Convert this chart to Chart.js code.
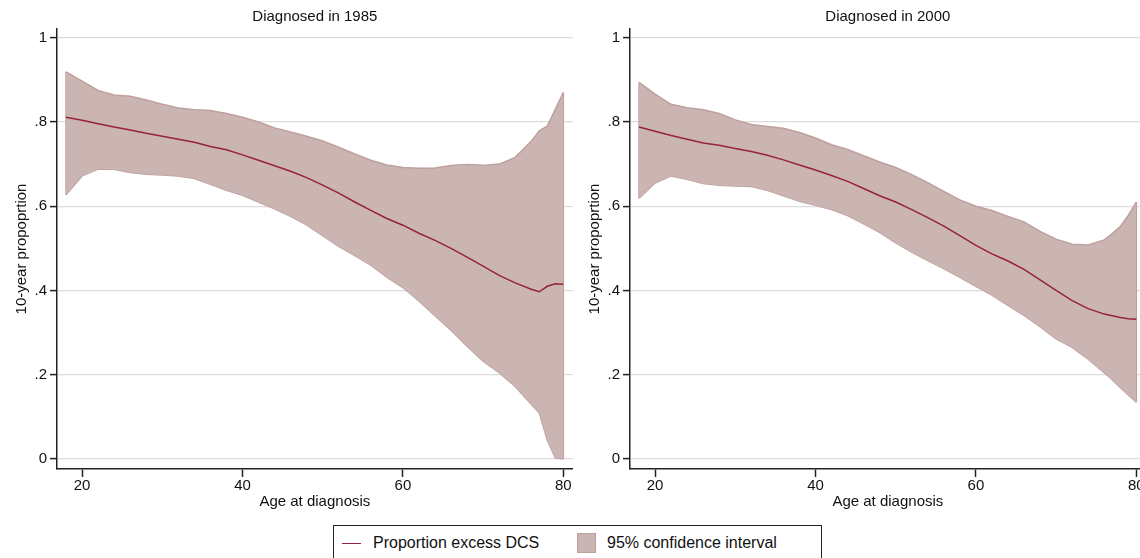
<!DOCTYPE html>
<html>
<head>
<meta charset="utf-8">
<script src="https://cdn.jsdelivr.net/npm/chart.js@4.4.1/dist/chart.umd.min.js"></script>
<style>
  html, body { margin: 0; padding: 0; background: #fff; width: 1140px; height: 558px; overflow: hidden; }
  body { position: relative; font-family: "Liberation Sans", Arial, Helvetica, sans-serif; }
  canvas { position: absolute; top: 0; }
  #c1985 { left: 0; }
  #c2000 { left: 573px; }
  #legend { position: absolute; left: 333px; top: 525px; width: 489px; height: 40px; border: 1px solid #222; box-sizing: border-box; font-size: 16px; color: #111; }
  #legend .line { position: absolute; left: 8px; top: 17px; width: 19px; height: 0; border-top: 1.5px solid rgb(150,35,55); }
  #legend .patch { position: absolute; left: 243px; top: 7px; width: 19px; height: 20px; box-sizing: border-box; background: rgb(202,181,178); border: 1.5px solid rgb(190,160,156); }
  #legend .t1 { position: absolute; left: 39px; top: 8px; }
  #legend .t2 { position: absolute; left: 273px; top: 8px; }
</style>
</head>
<body>
<canvas id="c1985" width="574" height="520"></canvas>
<canvas id="c2000" width="574" height="520"></canvas>
<div id="legend">
  <div class="line"></div><div class="t1">Proportion excess DCS</div>
  <div class="patch"></div><div class="t2">95% confidence interval</div>
</div>
<script>
const ages = [18, 20, 22, 24, 26, 28, 30, 32, 34, 36, 38, 40, 42, 44, 46, 48, 50, 52, 54, 56, 58, 60, 62, 64, 66, 68, 70, 72, 74, 76, 77, 78, 79, 80];

// diagnosed in 1985
const est1985 = [.811, .804, .796, .788, .781, .773, .766, .759, .752, .742, .734, .722, .709, .696, .683, .668, .650, .631, .610, .590, .571, .555, .536, .519, .500, .479, .458, .436, .418, .403, .397, .410, .416, .415];
const upper1985 = [.919, .897, .875, .864, .861, .852, .842, .833, .829, .827, .820, .811, .800, .786, .776, .766, .755, .740, .724, .709, .698, .692, .690, .691, .697, .699, .697, .700, .716, .754, .779, .790, .830, .870];
const lower1985 = [.627, .672, .688, .688, .680, .676, .674, .672, .666, .652, .638, .626, .610, .594, .576, .556, .530, .505, .483, .460, .432, .407, .375, .340, .306, .268, .232, .205, .172, .130, .110, .045, .003, 0];

// diagnosed in 2000
const est2000 = [.788, .778, .768, .759, .750, .745, .737, .730, .721, .710, .698, .686, .673, .659, .642, .625, .610, .592, .573, .553, .530, .507, .487, .470, .450, .425, .400, .376, .357, .344, .340, .336, .333, .332];
const upper2000 = [.894, .866, .842, .834, .829, .820, .805, .794, .789, .785, .775, .762, .746, .735, .720, .705, .692, .675, .656, .635, .615, .600, .590, .576, .563, .540, .522, .510, .508, .520, .535, .552, .578, .610];
const lower2000 = [.619, .655, .672, .664, .654, .650, .648, .647, .638, .625, .612, .602, .592, .578, .558, .538, .513, .491, .471, .452, .431, .410, .389, .365, .341, .314, .285, .265, .237, .205, .188, .170, .152, .135];

const xTicks = [20, 40, 60, 80];
const yTicks = [0, .2, .4, .6, .8, 1];

const lineColor = 'rgb(150,35,55)';
const bandFill = 'rgb(202,181,178)';
const bandEdge = 'rgb(190,160,156)';
const axisColor = '#222';

Chart.defaults.font.family = '"Liberation Sans", Arial, Helvetica, sans-serif';
Chart.defaults.font.size = 15;
Chart.defaults.color = '#111';

function pts(ys) {
    return ages.map((a, i) => ({ x: a, y: ys[i] }));
}

function makeChart(id, title, est, upper, lower) {
    const n = ages.length - 1;
    const edge = { borderColor: bandEdge, borderWidth: 1.5, pointRadius: 0, fill: false, order: 1 };
    return new Chart(document.getElementById(id), {
        type: 'line',
        data: {
            datasets: [
                { label: 'Proportion excess DCS', data: pts(est), borderColor: lineColor, borderWidth: 1.5, pointRadius: 0, fill: false, order: 0 },
                { label: 'upper', data: pts(upper), borderColor: bandEdge, borderWidth: 1.5, backgroundColor: bandFill, pointRadius: 0, fill: '+1', order: 1 },
                { label: 'lower', data: pts(lower), ...edge },
                { label: 'left edge', data: [{ x: ages[0], y: lower[0] }, { x: ages[0], y: upper[0] }], ...edge },
                { label: 'right edge', data: [{ x: ages[n], y: lower[n] }, { x: ages[n], y: upper[n] }], ...edge }
            ]
        },
        options: {
            responsive: false,
            animation: false,
            devicePixelRatio: 1,
            layout: { padding: { left: 0, right: 1.3, top: 0, bottom: 0 } },
            plugins: {
                legend: { display: false },
                tooltip: { enabled: false },
                // fullSize false -> centred over the plot area, not the canvas
                title: { display: true, fullSize: false, text: title, font: { size: 15, weight: 'normal' }, color: '#111', padding: { top: 8, bottom: 3 } }
            },
            scales: {
                x: {
                    type: 'linear',
                    min: 16.875,
                    max: 81.17,
                    afterBuildTicks: s => { s.ticks = xTicks.map(v => ({ value: v })); },
                    afterFit: s => { s.height = 51; },
                    border: { color: axisColor, width: 1.5 },
                    grid: { drawOnChartArea: false, tickLength: 8, tickColor: axisColor, tickWidth: 1.5 },
                    ticks: { padding: 0, maxRotation: 0, color: '#111' },
                    title: { display: true, text: 'Age at diagnosis', color: '#111', padding: { top: 0, bottom: 9 } }
                },
                y: {
                    min: -0.0237,
                    max: 1.0207,
                    afterBuildTicks: s => { s.ticks = yTicks.map(v => ({ value: v })); },
                    afterFit: s => { s.width = 57; },
                    border: { color: axisColor, width: 1.5 },
                    grid: { color: '#dcdcdc', lineWidth: 1.2, tickLength: 7, tickColor: axisColor, tickWidth: 1.5 },
                    ticks: {
                        padding: 3,
                        color: '#111',
                        callback: v => v === 0 ? '0' : v === 1 ? '1' : '.' + Math.round(v * 10)
                    },
                    title: { display: true, text: '10-year propoprtion', color: '#111', padding: { top: 13, bottom: 0 } }
                }
            }
        }
    });
}

makeChart('c1985', 'Diagnosed in 1985', est1985, upper1985, lower1985);
makeChart('c2000', 'Diagnosed in 2000', est2000, upper2000, lower2000);
</script>
</body>
</html>
